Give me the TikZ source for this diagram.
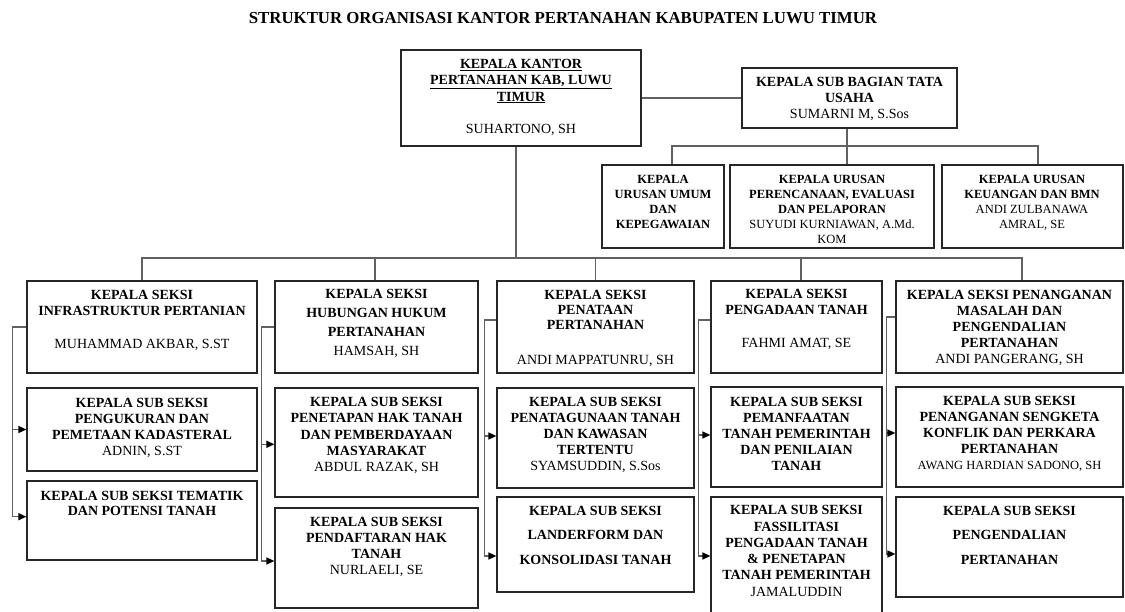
\documentclass[tikz,border=0pt]{standalone}
\usepackage{fontspec}
\setmainfont{Liberation Serif}
\usetikzlibrary{arrows.meta}
\newcommand\orgbox[5]{\node[orgb, minimum width={#4-#2}, minimum height={#5-#3}] (#1) at ({(#2+#4)/2},{(#3+#5)/2}) {};}
\begin{document}
\begin{tikzpicture}[x=1pt,y=-1pt,
  orgb/.style={draw=black!85, line width=1.2pt, inner sep=0pt},
  conn/.style={draw=black!62, line width=1.5pt},
  arr/.style={conn, -{Triangle[length=8pt,width=7pt,color=black]}},
  txt/.style={inner sep=0pt, align=center, anchor=north, font=\fontsize{14}{16.1}\selectfont\bfseries},
  stxt/.style={inner sep=0pt, align=center, anchor=north, font=\fontsize{12.5}{15}\selectfont\bfseries}]
\useasboundingbox (0,0) rectangle (1125,612);
\clip (0,0) rectangle (1125,612);

\node[inner sep=0pt, font=\fontsize{16.8}{19}\selectfont\bfseries] (title) at (563,18) {STRUKTUR ORGANISASI KANTOR PERTANAHAN KABUPATEN LUWU TIMUR};

% top boxes
\orgbox{K}{401}{50}{641}{146}
\node[txt] (Kt) at (521,59.4) {\underline{KEPALA KANTOR}\\\underline{PERTANAHAN KAB, LUWU}\\\underline{TIMUR}\\[16pt]\mdseries SUHARTONO, SH};
\orgbox{SB}{742}{68}{957}{128}
\node[txt] (SBt) at (849.5,77) {KEPALA SUB BAGIAN TATA\\USAHA\\\mdseries SUMARNI M, S.Sos};

\orgbox{U1}{602}{165}{724}{248}
\node[stxt] (U1t) at (663,175.5) {KEPALA\\URUSAN UMUM\\DAN\\KEPEGAWAIAN};
\orgbox{U2}{730}{165}{934}{248}
\node[stxt] (U2t) at (832,175.5) {KEPALA URUSAN\\PERENCANAAN, EVALUASI\\DAN PELAPORAN\\\mdseries SUYUDI KURNIAWAN, A.Md.\\\mdseries KOM};
\orgbox{U3}{942}{165}{1123}{248}
\node[stxt] (U3t) at (1032,175.5) {KEPALA URUSAN\\KEUANGAN DAN BMN\\\mdseries ANDI ZULBANAWA\\\mdseries AMRAL, SE};

% column 1
\orgbox{S1}{27}{281}{257}{373}
\node[txt] (S1t) at (142,290.3) {KEPALA SEKSI\\INFRASTRUKTUR PERTANIAN\\[16.5pt]\mdseries MUHAMMAD AKBAR, S.ST};
\orgbox{A1}{27}{388}{257}{471}
\node[txt] (A1t) at (142,398) {KEPALA SUB SEKSI\\PENGUKURAN DAN\\PEMETAAN KADASTERAL\\\mdseries ADNIN, S.ST};
\orgbox{B1}{27}{481}{257}{560}
\node[txt, font=\fontsize{14}{15}\selectfont\bfseries] (B1t) at (142,491) {KEPALA SUB SEKSI TEMATIK\\DAN POTENSI TANAH};

% column 2
\orgbox{S2}{275}{281}{478}{373}
\node[txt, font=\fontsize{14}{19}\selectfont\bfseries] (S2t) at (376.5,288.7) {KEPALA SEKSI\\HUBUNGAN HUKUM\\PERTANAHAN\\\mdseries HAMSAH, SH};
\orgbox{A2}{275}{388}{478}{497}
\node[txt, font=\fontsize{14}{16.3}\selectfont\bfseries] (A2t) at (376.5,397) {KEPALA SUB SEKSI\\PENETAPAN HAK TANAH\\DAN PEMBERDAYAAN\\MASYARAKAT\\\mdseries ABDUL RAZAK, SH};
\orgbox{B2}{275}{508}{478}{608}
\node[txt] (B2t) at (376.5,517) {KEPALA SUB SEKSI\\PENDAFTARAN HAK\\TANAH\\\mdseries NURLAELI, SE};

% column 3
\orgbox{S3}{497}{281}{694}{373}
\node[txt, font=\fontsize{14}{15}\selectfont\bfseries] (S3t) at (595.5,290.3) {KEPALA SEKSI\\PENATAAN\\PERTANAHAN\\[20pt]\mdseries ANDI MAPPATUNRU, SH};
\orgbox{A3}{497}{388}{694}{488}
\node[txt] (A3t) at (595.5,397) {KEPALA SUB SEKSI\\PENATAGUNAAN TANAH\\DAN KAWASAN\\TERTENTU\\\mdseries SYAMSUDDIN, S.Sos};
\orgbox{B3}{497}{497}{694}{592}
\node[txt, font=\fontsize{14}{24.3}\selectfont\bfseries] (B3t) at (595.5,506) {KEPALA SUB SEKSI\\LANDERFORM DAN\\KONSOLIDASI TANAH};

% column 4
\orgbox{S4}{711}{281}{882}{373}
\node[txt] (S4t) at (796.5,289.3) {KEPALA SEKSI\\PENGADAAN TANAH\\[16.6pt]\mdseries FAHMI AMAT, SE};
\orgbox{A4}{711}{387}{882}{487}
\node[txt, font=\fontsize{14}{15.9}\selectfont\bfseries] (A4t) at (796.5,397) {KEPALA SUB SEKSI\\PEMANFAATAN\\TANAH PEMERINTAH\\DAN PENILAIAN\\TANAH};
\orgbox{B4}{711}{497}{882}{630}
\node[txt, font=\fontsize{14}{16.3}\selectfont\bfseries] (B4t) at (796.5,505.3) {KEPALA SUB SEKSI\\FASSILITASI\\PENGADAAN TANAH\\\& PENETAPAN\\TANAH PEMERINTAH\\\mdseries JAMALUDDIN};

% column 5
\orgbox{S5}{896}{281}{1123}{373}
\node[txt, font=\fontsize{14}{16}\selectfont\bfseries] (S5t) at (1009.5,290.3) {KEPALA SEKSI PENANGANAN\\MASALAH DAN\\PENGENDALIAN\\PERTANAHAN\\\mdseries ANDI PANGERANG, SH};
\orgbox{A5}{896}{387}{1123}{487}
\node[txt, font=\fontsize{14}{16}\selectfont\bfseries] (A5t) at (1009.5,396) {KEPALA SUB SEKSI\\PENANGANAN SENGKETA\\KONFLIK DAN PERKARA\\PERTANAHAN\\\mdseries\fontsize{12.5}{16}\selectfont AWANG HARDIAN SADONO, SH};
\orgbox{B5}{896}{497}{1123}{597}
\node[txt, font=\fontsize{14}{24.3}\selectfont\bfseries] (B5t) at (1009.5,506) {KEPALA SUB SEKSI\\PENGENDALIAN\\PERTANAHAN};

% connectors top
\draw[conn] (K.east) -- (SB.west);
\coordinate (ubus) at (847,146);
\draw[conn] ([xshift=-2.5pt]SB.south) -- (ubus) -- (ubus |- U2.north);
\draw[conn] ([xshift=9pt]U1.north) |- (ubus);
\draw[conn] ([xshift=5.5pt]U3.north) |- (ubus);

\coordinate (bus) at (516,258);
\draw[conn] ([xshift=-5pt]K.south) -- (bus);
\draw[conn] (S1.north) |- (bus);
\draw[conn] ([xshift=-1.5pt]S2.north) |- (bus);
\draw[conn] (S3.north) |- (bus);
\draw[conn] ([xshift=4.5pt]S4.north) |- (bus);
\draw[conn] ([xshift=12.5pt]S5.north) |- (bus);

% column brackets
\draw[arr] (S1.west) -- ++(-14,0) |- (A1.west);
\draw[arr] (S1.west) -- ++(-14,0) |- ([yshift=3.8pt]B1.west);

\draw[arr] (S2.west) -- ++(-13,0) |- ([yshift=-1.8pt]A2.west);
\draw[arr] (S2.west) -- ++(-13,0) |- ([yshift=-3pt]B2.west);

\draw[arr] ([yshift=7pt]S3.west) -- ++(-12,0) |- ([yshift=2pt]A3.west);
\draw[arr] ([yshift=7pt]S3.west) -- ++(-12,0) |- ([yshift=-11.5pt]B3.west);

\draw[arr] ([yshift=7pt]S4.west) -- ++(-12,0) |- ([yshift=2pt]A4.west);
\draw[arr] ([yshift=7pt]S4.west) -- ++(-12,0) |- ([yshift=7.5pt]B4.west);

\draw[arr] ([yshift=10pt]S5.west) -- ++(-9,0) |- ([yshift=4pt]A5.west);
\draw[arr] ([yshift=10pt]S5.west) -- ++(-9,0) |- ([yshift=-7pt]B5.west);
\end{tikzpicture}
\end{document}
